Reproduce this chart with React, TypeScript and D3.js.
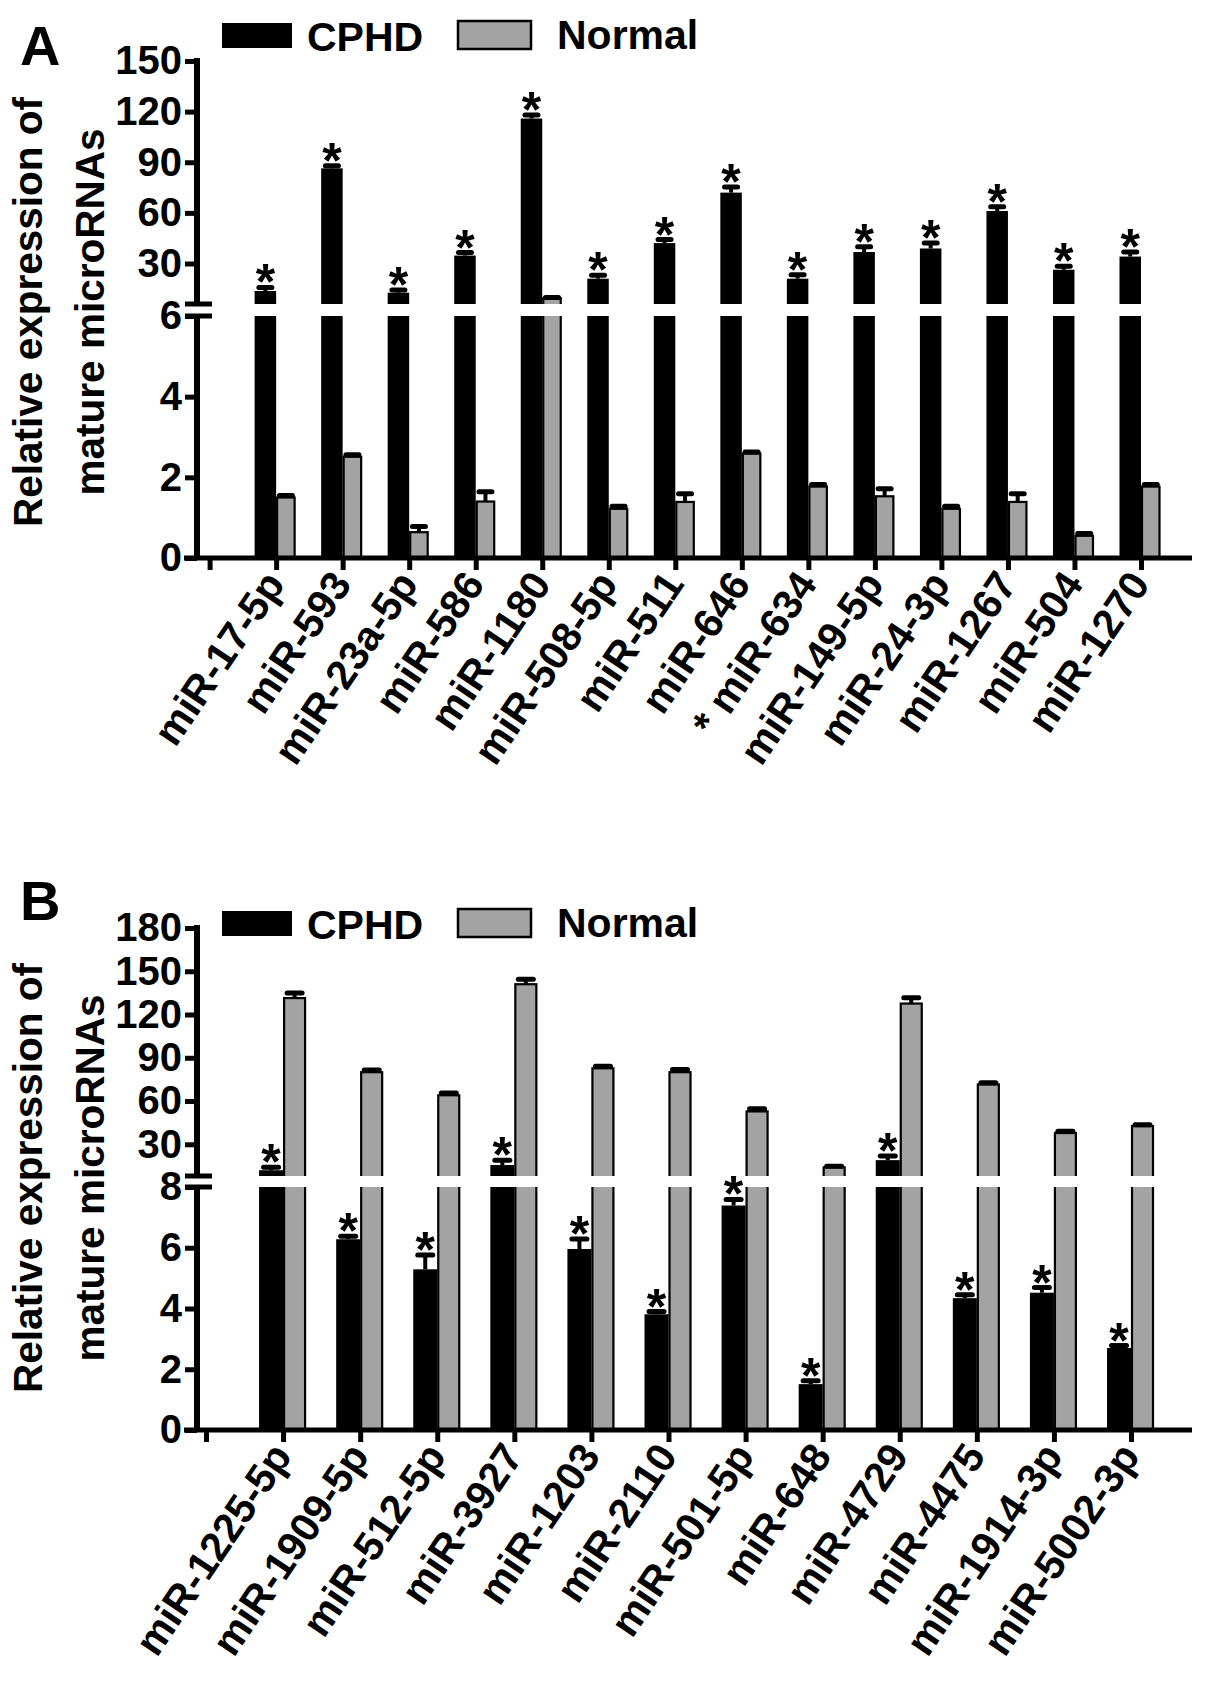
import React, { useRef, useEffect } from 'react';
import * as d3 from 'd3';

// Panel A
const mirsA = ['miR-17-5p', 'miR-593', 'miR-23a-5p', 'miR-586', 'miR-1180', 'miR-508-5p', 'miR-511',
    'miR-646', '* miR-634', 'miR-149-5p', 'miR-24-3p', 'miR-1267', 'miR-504', 'miR-1270'];
const cphdA = [13.7, 86.4, 12.7, 34.7, 115.9, 21.0, 42.1, 72.0, 21.0, 36.8, 38.9, 61.1, 26.3, 34.1];
const cphdErrA = [2.1, 1.5, 1.6, 1.8, 2.1, 2.0, 2.1, 3.4, 2.3, 3.2, 3.2, 2.5, 2.1, 2.7];
const normalA = [1.50, 2.51, 0.64, 1.40, 9.5, 1.22, 1.39, 2.59, 1.77, 1.53, 1.22, 1.39, 0.55, 1.77];
const normalErrA = [0.05, 0.05, 0.14, 0.24, 0.4, 0.06, 0.2, 0.04, 0.05, 0.19, 0.06, 0.2, 0.06, 0.05];
const upperTicksA = [30, 60, 90, 120, 150];
const lowerTicksA = [0, 2, 4, 6];

// Panel B
const mirsB = ['miR-1225-5p', 'miR-1909-5p', 'miR-512-5p', 'miR-3927', 'miR-1203', 'miR-2110',
    'miR-501-5p', 'miR-648', 'miR-4729', 'miR-4475', 'miR-1914-3p', 'miR-5002-3p'];
const cphdB = [12, 6.28, 5.29, 15.6, 5.96, 3.81, 7.39, 1.51, 19, 4.34, 4.52, 2.70];
const cphdErrB = [2, 0.1, 0.47, 3.4, 0.33, 0.09, 0.2, 0.11, 2.8, 0.11, 0.17, 0.08];
const normalB = [131.4, 80, 64, 141, 82.7, 80, 52.8, 14, 127.6, 71.5, 37.8, 42.6];
const normalErrB = [3.6, 1.5, 1.5, 3.5, 1.5, 1.8, 1.8, 0.8, 4, 1.2, 1.2, 1.0];
const upperTicksB = [30, 60, 90, 120, 150, 180];
const lowerTicksB = [0, 2, 4, 6, 8];

const seriesNames = ['CPHD', 'Normal'];
const colors = { cphd: '#000000', normal: '#a3a3a3' };
const FONT = "'Liberation Sans', Arial, Helvetica, sans-serif";

interface PanelLayout {
    letter: string;
    letterY: number;
    legendY: number;
    yAxisX: number;
    xFirst: number;
    xLast: number;
    zeroY: number;
    breakLowY: number;
    breakHighY: number;
    topY: number;
    breakVal: number;
    maxVal: number;
    cBarW: number;
    nBarW: number;
    capW: number;
    titleY: number;
}

interface PanelData {
    mirs: string[];
    cphd: number[];
    cphdErr: number[];
    normal: number[];
    normalErr: number[];
    upperTicks: number[];
    lowerTicks: number[];
}

function drawPanel(svg: d3.Selection<SVGSVGElement, unknown, null, undefined>, L: PanelLayout, D: PanelData) {
    const g = svg.append('g');

    const x = d3.scalePoint<string>()
        .domain(['', ...D.mirs])
        .range([L.xFirst, L.xLast]);

    const yLower = d3.scaleLinear().domain([0, L.breakVal]).range([L.zeroY, L.breakLowY]);
    const yUpper = d3.scaleLinear().domain([L.breakVal, L.maxVal]).range([L.breakHighY, L.topY]);
    const yOf = (v: number) => (v <= L.breakVal ? yLower(v) : yUpper(v));

    // bars
    D.mirs.forEach((m, i) => {
        const cx = x(m)!;
        g.append('rect')
            .attr('x', cx - L.cBarW)
            .attr('y', yOf(D.cphd[i]))
            .attr('width', L.cBarW)
            .attr('height', L.zeroY - yOf(D.cphd[i]))
            .attr('fill', colors.cphd);
        g.append('rect')
            .attr('x', cx + 1)
            .attr('y', yOf(D.normal[i]))
            .attr('width', L.nBarW - 2)
            .attr('height', L.zeroY - yOf(D.normal[i]))
            .attr('fill', colors.normal)
            .attr('stroke', '#000')
            .attr('stroke-width', 2.2);
    });

    // break band across the bars
    g.append('rect')
        .attr('x', L.yAxisX + 4)
        .attr('y', L.breakHighY)
        .attr('width', 1200 - L.yAxisX)
        .attr('height', L.breakLowY - L.breakHighY)
        .attr('fill', '#fff');

    // error bars + asterisks
    D.mirs.forEach((m, i) => {
        const cx = x(m)!;
        const bars = [
            { c: cx - L.cBarW / 2, v: D.cphd[i], e: D.cphdErr[i] },
            { c: cx + L.nBarW / 2, v: D.normal[i], e: D.normalErr[i] }
        ];
        bars.forEach(b => {
            const yTop = yOf(b.v + b.e);
            g.append('line')
                .attr('x1', b.c).attr('x2', b.c)
                .attr('y1', yOf(b.v)).attr('y2', yTop)
                .attr('stroke', '#000').attr('stroke-width', 4);
            g.append('line')
                .attr('x1', b.c - L.capW / 2).attr('x2', b.c + L.capW / 2)
                .attr('y1', yTop).attr('y2', yTop)
                .attr('stroke', '#000').attr('stroke-width', 5)
                .attr('stroke-linecap', 'round');
        });
        g.append('text')
            .attr('x', cx - L.cBarW / 2)
            .attr('y', yOf(D.cphd[i] + D.cphdErr[i]) + 12)
            .attr('text-anchor', 'middle')
            .attr('font-family', FONT)
            .attr('font-weight', 'bold')
            .attr('font-size', 50)
            .text('*');
    });

    // x axis
    g.append('line')
        .attr('x1', 184).attr('x2', 1192)
        .attr('y1', L.zeroY).attr('y2', L.zeroY)
        .attr('stroke', '#000').attr('stroke-width', 5);
    const xAxis = g.append('g')
        .attr('transform', `translate(0,${L.zeroY})`)
        .call(d3.axisBottom(x).tickSize(12).tickSizeOuter(0).tickFormat(() => ''));
    xAxis.select('.domain').remove();
    xAxis.selectAll('line').attr('stroke', '#000').attr('stroke-width', 5);

    D.mirs.forEach(m => {
        const px = x(m)! + 10;
        const py = L.zeroY + 26;
        g.append('text')
            .attr('transform', `translate(${px},${py}) rotate(-56)`)
            .attr('text-anchor', 'end')
            .attr('font-family', FONT)
            .attr('font-weight', 'bold')
            .attr('font-size', 41)
            .text(m);
    });

    // y axis with break
    g.append('line')
        .attr('x1', L.yAxisX).attr('x2', L.yAxisX)
        .attr('y1', L.topY - 3).attr('y2', L.breakHighY)
        .attr('stroke', '#000').attr('stroke-width', 6);
    g.append('line')
        .attr('x1', L.yAxisX).attr('x2', L.yAxisX)
        .attr('y1', L.breakLowY).attr('y2', L.zeroY)
        .attr('stroke', '#000').attr('stroke-width', 6);
    [L.breakHighY, L.breakLowY].forEach(by => {
        g.append('line')
            .attr('x1', L.yAxisX - 12).attr('x2', L.yAxisX + 15)
            .attr('y1', by).attr('y2', by)
            .attr('stroke', '#000').attr('stroke-width', 5);
    });

    const styleY = (ax: d3.Selection<SVGGElement, unknown, null, undefined>) => {
        ax.select('.domain').remove();
        ax.selectAll('line').attr('stroke', '#000').attr('stroke-width', 5);
        ax.selectAll('text')
            .attr('fill', '#000')
            .attr('font-family', FONT)
            .attr('font-weight', 'bold')
            .attr('font-size', 40);
    };
    const fmt = d3.format('d');
    const yAxisUpper = g.append('g')
        .attr('transform', `translate(${L.yAxisX},0)`)
        .call(d3.axisLeft(yUpper).tickValues(D.upperTicks).tickFormat(d => fmt(d as number))
            .tickSize(12).tickPadding(3).tickSizeOuter(0));
    styleY(yAxisUpper);
    const yAxisLower = g.append('g')
        .attr('transform', `translate(${L.yAxisX},0)`)
        .call(d3.axisLeft(yLower).tickValues(D.lowerTicks).tickFormat(d => fmt(d as number))
            .tickSize(12).tickPadding(3).tickSizeOuter(0));
    styleY(yAxisLower);

    // y title
    [['Relative expression of', 42], ['mature microRNAs', 104]].forEach(([t, bx]) => {
        g.append('text')
            .attr('transform', `translate(${bx},${L.titleY}) rotate(-90)`)
            .attr('text-anchor', 'middle')
            .attr('font-family', FONT)
            .attr('font-weight', 'bold')
            .attr('font-size', 40.5)
            .text(t as string);
    });

    // panel letter
    g.append('text')
        .attr('x', 20).attr('y', L.letterY)
        .attr('font-family', FONT)
        .attr('font-weight', 'bold')
        .attr('font-size', 56)
        .text(L.letter);

    // legend
    g.append('rect')
        .attr('x', 222).attr('y', L.legendY)
        .attr('width', 70).attr('height', 25)
        .attr('fill', colors.cphd);
    g.append('text')
        .attr('x', 307).attr('y', L.legendY + 28)
        .attr('font-family', FONT).attr('font-weight', 'bold').attr('font-size', 41)
        .text(seriesNames[0]);
    g.append('rect')
        .attr('x', 458).attr('y', L.legendY - 2)
        .attr('width', 73).attr('height', 28)
        .attr('fill', colors.normal)
        .attr('stroke', '#000').attr('stroke-width', 2.5);
    g.append('text')
        .attr('x', 557).attr('y', L.legendY + 26)
        .attr('font-family', FONT).attr('font-weight', 'bold').attr('font-size', 41)
        .text(seriesNames[1]);
}

const layoutA: PanelLayout = {
    letter: 'A', letterY: 65, legendY: 23, yAxisX: 197, xFirst: 209.6, xLast: 1141,
    zeroY: 558, breakLowY: 316, breakHighY: 304, topY: 61, breakVal: 6, maxVal: 150,
    cBarW: 21.5, nBarW: 19.5, capW: 13, titleY: 312
};

const layoutB: PanelLayout = {
    letter: 'B', letterY: 920, legendY: 911, yAxisX: 197, xFirst: 206, xLast: 1131,
    zeroY: 1430, breakLowY: 1187, breakHighY: 1176, topY: 928, breakVal: 8, maxVal: 180,
    cBarW: 24, nBarW: 23, capW: 15, titleY: 1178
};

export default function App() {
    const svgRef = useRef<SVGSVGElement | null>(null);

    useEffect(() => {
        if (!svgRef.current) return;
        const svg = d3.select(svgRef.current);
        svg.selectAll('*').remove();

        drawPanel(svg, layoutA, {
            mirs: mirsA, cphd: cphdA, cphdErr: cphdErrA, normal: normalA, normalErr: normalErrA,
            upperTicks: upperTicksA, lowerTicks: lowerTicksA
        });
        drawPanel(svg, layoutB, {
            mirs: mirsB, cphd: cphdB, cphdErr: cphdErrB, normal: normalB, normalErr: normalErrB,
            upperTicks: upperTicksB, lowerTicks: lowerTicksB
        });
    }, []);

    return (
        <div>
            <style>{'body { margin: 0; }'}</style>
            <svg ref={svgRef} width={1205} height={1692} style={{ display: 'block', background: '#fff' }} />
        </div>
    );
}
